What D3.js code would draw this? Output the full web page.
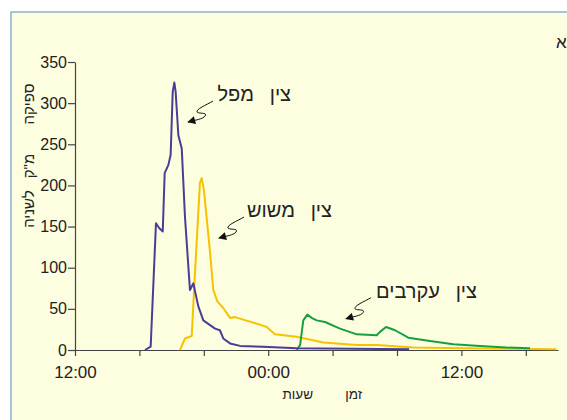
<!DOCTYPE html>
<html>
<head>
<meta charset="utf-8">
<script src="https://cdn.jsdelivr.net/npm/d3@7"></script>
<style>
  html, body { margin: 0; padding: 0; background: #ffffff; }
  svg { display: block; font-family: "Liberation Sans", Arial, sans-serif; }
</style>
</head>
<body>
<svg id="chart" width="567" height="420"></svg>
<script>
// Flood hydrographs along Nahal Zin: hours since 12:00 on day one, discharge in m³/s
const mapalHours   = [4.35, 4.70, 5.03, 5.24, 5.45, 5.57, 5.80, 5.94, 6.07, 6.17, 6.25, 6.42, 6.63, 6.83, 7.14, 7.35, 7.66, 7.97, 8.70, 9.00, 9.21, 9.63, 10.25, 11.68, 13.77, 20.75];
const mapalFlow    = [0, 4, 154, 148, 144, 215, 225, 237, 314, 325, 314, 261, 245, 162, 73, 81, 53, 36, 26, 24, 14, 8, 5, 4, 2, 1];

const mashoshHours = [6.52, 6.83, 7.25, 7.45, 7.76, 7.87, 8.01, 8.39, 8.59, 8.84, 9.21, 9.63, 9.94, 11.29, 11.91, 12.42, 13.77, 15.42, 17.50, 18.74, 21.01, 24.10, 29.90];
const mashoshFlow  = [0, 14, 17, 93, 203, 209, 194, 118, 73, 59, 51, 39, 40, 32, 28, 19, 16, 9, 6, 6, 3, 2, 1];

const akrabimHours = [13.77, 13.98, 14.18, 14.43, 14.70, 15.01, 15.53, 16.46, 17.50, 18.74, 18.94, 19.32, 19.88, 20.70, 22.05, 23.50, 25.16, 26.81, 28.26];
const akrabimFlow  = [0, 6, 36, 43, 39, 36, 34, 26, 19, 18, 22, 28, 24, 15, 11, 7, 5, 3, 2];

const xTickHours  = [0, 4, 8, 12, 16, 20, 24, 28];
const xTickLabels = {0: "12:00", 12: "00:00", 24: "12:00"};
const yTicks      = [0, 50, 100, 150, 200, 250, 300, 350];

const stationNames = ["מפל", "משוש", "עקרבים"];
const streamName   = "צין";
// where each station's arrow points, in hours / m³/s
const arrowHours   = [7.02, 8.94, 16.83];
const arrowFlow    = [277, 136, 38];

const yTitleWords  = ["ספיקה", "מ\"ק", "לשניה"];
const xTitleWords  = ["זמן", "שעות"];

const svg = d3.select("#chart");

// cream panel with a blue edge on the left and top
svg.append("rect")
  .attr("x", 11).attr("y", 12).attr("width", 600).attr("height", 450)
  .attr("fill", "#fdfddf").attr("stroke", "#7ba7cd").attr("stroke-width", 1.3);

svg.append("text").attr("x", 556).attr("y", 48)
  .attr("font-size", 17).attr("fill", "#222").text("א");

const x = d3.scaleLinear().domain([0, 30]).range([75, 558]);
const y = d3.scaleLinear().domain([0, 350]).range([350, 62]);

// axes
const yAxis = svg.append("g").attr("transform", "translate(75,0)")
  .call(d3.axisLeft(y).tickValues(yTicks).tickSize(7).tickSizeOuter(0).tickPadding(1));
yAxis.selectAll("text").attr("font-size", 16).attr("fill", "#222")
  .attr("font-family", "Liberation Sans, Arial, sans-serif");

const xAxis = svg.append("g").attr("transform", "translate(0,350)")
  .call(d3.axisBottom(x).tickValues(xTickHours).tickSize(6).tickSizeOuter(0).tickPadding(10)
    .tickFormat(h => xTickLabels[h] || ""));
xAxis.selectAll("text").attr("font-size", 17).attr("fill", "#222")
  .attr("font-family", "Liberation Sans, Arial, sans-serif");

[yAxis, xAxis].forEach(g => {
  g.select(".domain").attr("stroke", "#444").attr("stroke-width", 1.2);
  g.selectAll(".tick line").attr("stroke", "#444").attr("stroke-width", 1.2);
});

// hydrograph lines
const line = d3.line().x(d => x(d[0])).y(d => y(d[1]));
const series = [
  {h: mashoshHours, q: mashoshFlow, color: "#f5c300"},
  {h: akrabimHours, q: akrabimFlow, color: "#17a040"},
  {h: mapalHours,   q: mapalFlow,   color: "#4a3d98"}
];
series.forEach(s => {
  svg.append("path")
    .datum(s.h.map((h, i) => [h, s.q[i]]))
    .attr("d", line)
    .attr("fill", "none")
    .attr("stroke", s.color)
    .attr("stroke-width", 2)
    .attr("stroke-linejoin", "round");
});

// station labels with squiggly arrows
svg.append("defs").append("marker")
  .attr("id", "head").attr("viewBox", "0 0 10 10")
  .attr("refX", 9).attr("refY", 5)
  .attr("markerWidth", 9).attr("markerHeight", 8)
  .attr("markerUnits", "userSpaceOnUse")
  .attr("orient", "auto")
  .append("path").attr("d", "M0,0 L10,5 L0,10 Z").attr("fill", "#111");

const labelShift = [78, 88, 106];   // right edge of each label, from the arrow tail
stationNames.forEach((name, i) => {
  const ax = x(arrowHours[i]), ay = y(arrowFlow[i]);
  const sx = ax + 25, sy = ay - 21;
  const p = d3.path();
  p.moveTo(sx, sy);
  p.bezierCurveTo(sx - 7, sy + 4, sx - 17, sy + 8, sx - 16, sy + 11);
  p.bezierCurveTo(sx - 14, sy + 13, sx - 5, sy + 11, sx - 8, sy + 15);
  p.bezierCurveTo(sx - 10, sy + 18, sx - 18, sy + 19, ax, ay);
  svg.append("path").attr("d", p.toString())
    .attr("fill", "none").attr("stroke", "#111").attr("stroke-width", 1)
    .attr("marker-end", "url(#head)");

  const right = sx + labelShift[i];
  const base = sy;
  svg.append("text").attr("x", right).attr("y", base)
    .attr("text-anchor", "end").attr("font-size", 20).attr("fill", "#222")
    .text(streamName);
  svg.append("text").attr("x", right - 37).attr("y", base)
    .attr("text-anchor", "end").attr("font-size", 20).attr("fill", "#222")
    .text(name);
});

// axis titles
const yTitleCentres = [104, 166, 209];
yTitleWords.forEach((w, i) => {
  svg.append("text")
    .attr("transform", `translate(34,${yTitleCentres[i]}) rotate(-90)`)
    .attr("text-anchor", "middle").attr("font-size", 15).attr("fill", "#222")
    .text(w);
});
svg.append("text").attr("x", 362).attr("y", 399).attr("text-anchor", "end")
  .attr("font-size", 13.5).attr("fill", "#222").text(xTitleWords[0]);
svg.append("text").attr("x", 313).attr("y", 399).attr("text-anchor", "end")
  .attr("font-size", 13.5).attr("fill", "#222").text(xTitleWords[1]);
</script>
</body>
</html>
